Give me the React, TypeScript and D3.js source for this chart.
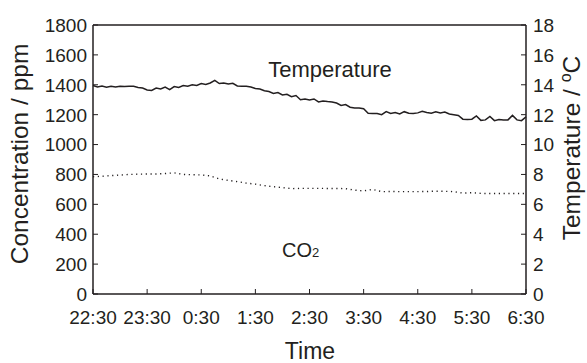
import React from "react";
import * as d3 from "d3";

const timeLabels = ["22:30", "23:30", "0:30", "1:30", "2:30", "3:30", "4:30", "5:30", "6:30"];
const concTicks = [0, 200, 400, 600, 800, 1000, 1200, 1400, 1600, 1800];
const tempTicks = [0, 2, 4, 6, 8, 10, 12, 14, 16, 18];

// minutes after 22:30, 5-minute steps
const tempMinutes = d3.range(0, 481, 5);
const tempValues = [
  13.95, 13.85, 13.92, 13.84, 13.9, 13.85, 13.9, 13.88, 13.9, 13.9, 13.82, 13.78,
  13.65, 13.62, 13.78, 13.72, 13.85, 13.68, 13.88, 13.82, 13.95, 13.9, 14.0, 13.95,
  14.08, 14.02, 14.12, 14.3, 14.08, 14.12, 14.05, 14.1, 13.92, 13.9, 13.9, 13.85,
  13.75, 13.72, 13.6, 13.55, 13.42, 13.48, 13.32, 13.36, 13.2, 13.28, 13.0, 13.05,
  12.98, 13.05, 12.85, 12.92, 12.88, 12.85, 12.78, 12.62, 12.68, 12.5, 12.45, 12.45,
  12.4, 12.1, 12.08, 12.08, 12.0, 12.2, 12.08, 12.15, 12.05, 12.2, 12.1, 12.08,
  12.12, 12.22, 12.15, 12.1, 12.2, 12.12, 12.18, 12.05, 12.0, 11.95, 11.7, 11.68,
  11.7, 11.92, 11.62, 11.65, 11.88, 11.6, 11.68, 11.65, 11.65, 11.95, 11.65, 11.6, 11.85,
];

// minutes after 22:30, 10-minute steps
const co2Minutes = d3.range(0, 481, 10);
const co2Values = [
  785, 788, 792, 796, 800, 802, 803, 803, 806, 811, 800, 798, 797, 790, 770, 760,
  752, 742, 735, 725, 718, 712, 705, 707, 707, 707, 706, 706, 705, 695, 690, 700,
  685, 686, 685, 685, 685, 686, 688, 687, 685, 675, 678, 673, 672, 672, 672, 672, 672,
];

const W = 587;
const H = 363;
const L = 93;
const R = 526;
const T = 25;
const B = 294;
const ink = "#231f20";
const font = "'Liberation Sans', Arial, Helvetica, sans-serif";

export default function App() {
  const x = d3.scaleLinear().domain([0, 480]).range([L, R]);
  const yC = d3.scaleLinear().domain([0, 1800]).range([B, T]);
  const yT = d3.scaleLinear().domain([0, 18]).range([B, T]);

  const tempLine = d3
    .line<number>()
    .x((_, i) => x(tempMinutes[i]))
    .y((d) => yT(d));
  const co2Line = d3
    .line<number>()
    .x((_, i) => x(co2Minutes[i]))
    .y((d) => yC(d));

  const tickLen = 5;

  return (
    <svg
      width={W}
      height={H}
      style={{ position: "absolute", left: 0, top: 0, background: "#fff" }}
      fontFamily={font}
    >
      <rect x={0} y={0} width={W} height={H} fill="#fff" />
      {/* data */}
      <path d={co2Line(co2Values) || ""} fill="none" stroke={ink} strokeWidth={1.4} strokeDasharray="1.2 3.6" />
      <path d={tempLine(tempValues) || ""} fill="none" stroke={ink} strokeWidth={1.5} strokeLinejoin="miter" />

      {/* frame */}
      <line x1={L} x2={L} y1={T} y2={B} stroke={ink} strokeWidth={1.5} />
      <line x1={R} x2={R} y1={T} y2={B} stroke={ink} strokeWidth={1.5} />
      <line x1={L} x2={R} y1={T} y2={T} stroke={ink} strokeWidth={1.5} />
      <line x1={L} x2={R} y1={B} y2={B} stroke={ink} strokeWidth={1.5} />

      {/* left axis */}
      {concTicks.map((v) => (
        <g key={"c" + v}>
          <line x1={L} x2={L + tickLen} y1={yC(v)} y2={yC(v)} stroke={ink} strokeWidth={1} />
          <text x={L - 6} y={yC(v)} dy="0.36em" textAnchor="end" fontSize={19} fill={ink}>
            {v}
          </text>
        </g>
      ))}
      {/* right axis */}
      {tempTicks.map((v) => (
        <g key={"t" + v}>
          <line x1={R} x2={R - tickLen} y1={yT(v)} y2={yT(v)} stroke={ink} strokeWidth={1} />
          <text x={R + 7} y={yT(v)} dy="0.36em" textAnchor="start" fontSize={19} fill={ink}>
            {v}
          </text>
        </g>
      ))}
      {/* bottom axis */}
      {timeLabels.map((lab, i) => (
        <g key={"x" + lab}>
          <line x1={x(i * 60)} x2={x(i * 60)} y1={B} y2={B - tickLen} stroke={ink} strokeWidth={1} />
          <text x={x(i * 60)} y={324} textAnchor="middle" fontSize={19} fill={ink}>
            {lab}
          </text>
        </g>
      ))}

      {/* titles */}
      <text x={310} y={359} textAnchor="middle" fontSize={23} fill={ink}>
        Time
      </text>
      <text transform={`translate(28,154) rotate(-90)`} textAnchor="middle" fontSize={24.5} fill={ink}>
        Concentration / ppm
      </text>
      <text transform={`translate(580,148) rotate(-90)`} textAnchor="middle" fontSize={24.5} fill={ink}>
        Temperature / <tspan fontSize={16} dy="-9">o</tspan>
        <tspan dy="9">C</tspan>
      </text>

      {/* inline labels */}
      <text x={330} y={77} textAnchor="middle" fontSize={22} fill={ink}>
        Temperature
      </text>
      <text x={282} y={257} textAnchor="start" fontSize={20} fill={ink}>
        CO<tspan fontSize={13}>2</tspan>
      </text>
    </svg>
  );
}
